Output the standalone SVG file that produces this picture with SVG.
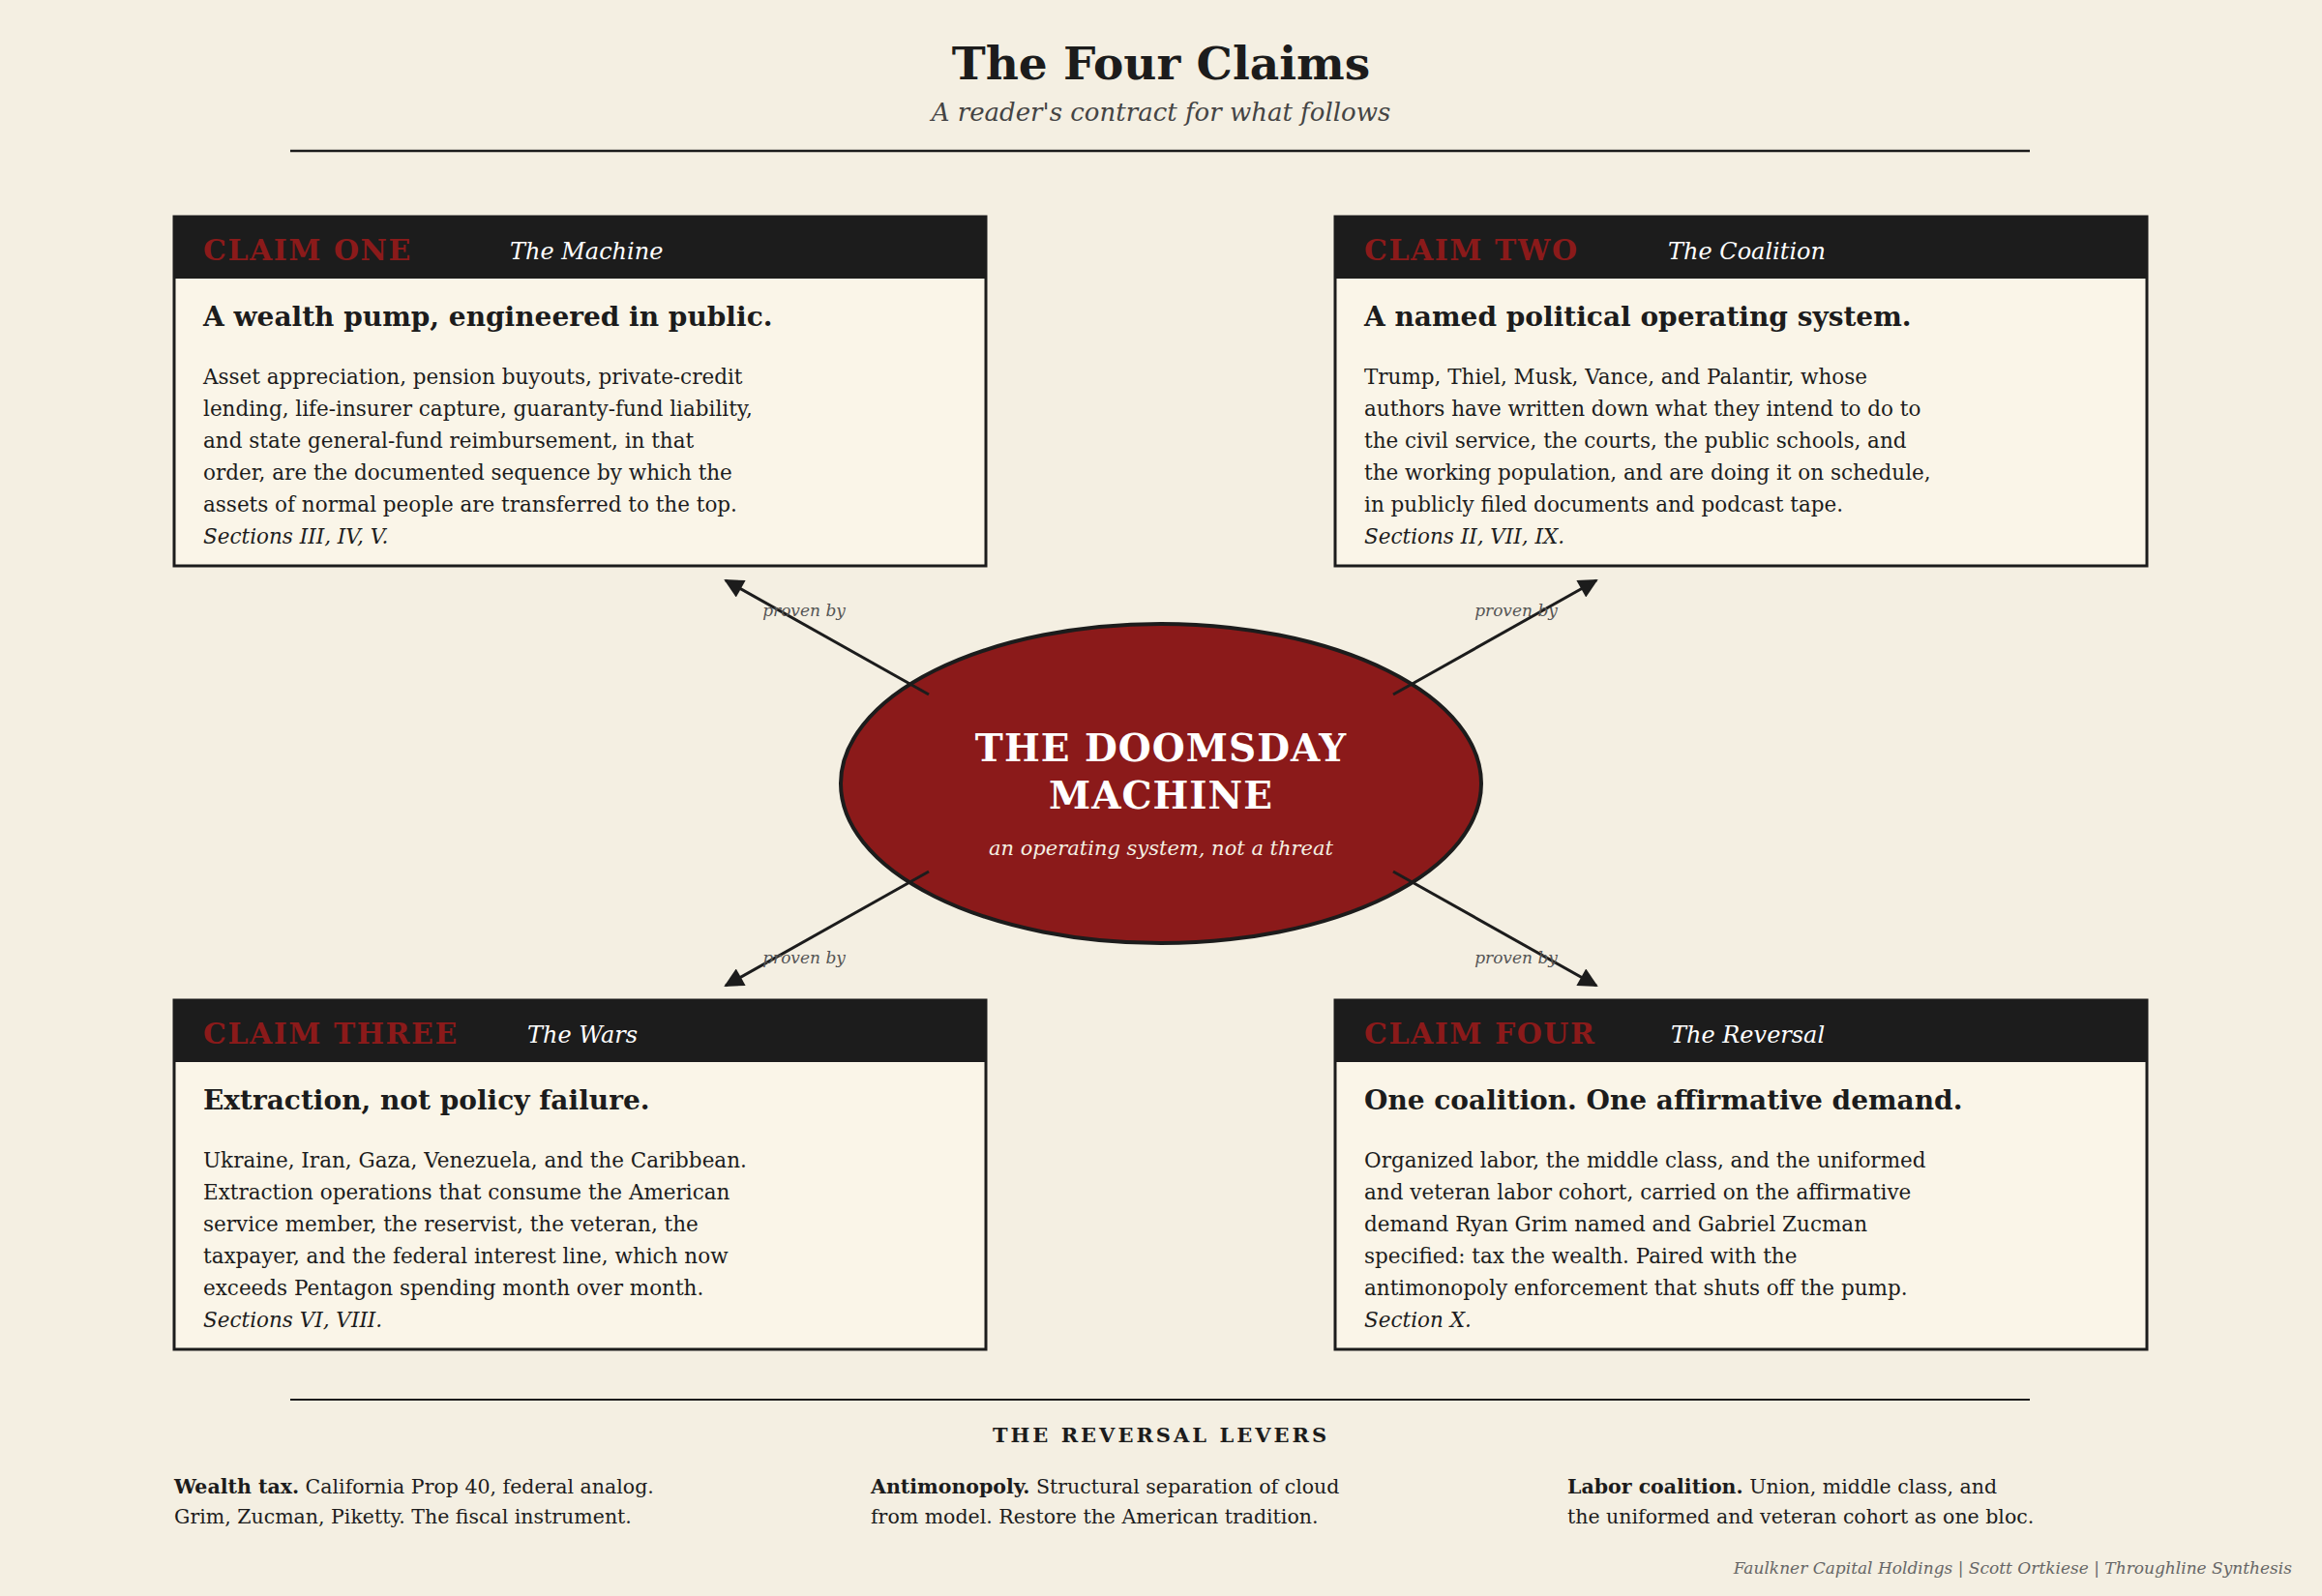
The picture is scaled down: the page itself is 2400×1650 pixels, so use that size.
<svg xmlns="http://www.w3.org/2000/svg" width="2400" height="1650" viewBox="0 0 2400 1650">
<defs>
<style>
text{font-family:"DejaVu Serif","Liberation Serif",serif;}
.box{fill:#FAF5E8;stroke:#1c1c1c;stroke-width:3}
.hdr{fill:#1c1c1c}
.cl{fill:#8B1A1A;font-size:30px;letter-spacing:1.5px;font-weight:bold}
.sub{fill:#ffffff;font-size:24px;font-style:italic}
.hd{fill:#1c1c1c;font-size:28px;font-weight:bold}
.bd{fill:#1c1c1c;font-size:21.5px}
.it{font-style:italic}
.pb{fill:#555;font-size:17px;font-style:italic}
.ln{stroke:#1c1c1c;stroke-width:3;fill:none;marker-end:url(#ah)}
.lv{fill:#1c1c1c;font-size:20.5px}
</style>
<marker id="ah" viewBox="0 0 10 10" refX="9" refY="5" markerWidth="24" markerHeight="20" orient="auto" markerUnits="userSpaceOnUse">
<path d="M0,0 L10,5 L0,10 z" fill="#1c1c1c"/>
</marker>
</defs>
<rect width="2400" height="1650" fill="#F4EFE2"/>
<g id="title">
<text x="1200" y="82" text-anchor="middle" font-size="47" font-weight="bold" fill="#1c1c1c">The Four Claims</text>
<text x="1200" y="125" text-anchor="middle" font-size="26" font-style="italic" fill="#444">A reader's contract for what follows</text>
<line x1="300" y1="156" x2="2098" y2="156" stroke="#1c1c1c" stroke-width="2.5"/>
</g>
<g id="center">
<ellipse cx="1200" cy="810" rx="331" ry="165" fill="#8B1A1A" stroke="#1c1c1c" stroke-width="4"/>
<text x="1200" y="787" text-anchor="middle" font-size="39" font-weight="bold" fill="#fff" letter-spacing="1">THE DOOMSDAY</text>
<text x="1200" y="836" text-anchor="middle" font-size="39" font-weight="bold" fill="#fff" letter-spacing="1">MACHINE</text>
<text x="1200" y="884" text-anchor="middle" font-size="21" font-style="italic" fill="#F4EFE2">an operating system, not a threat</text>
</g>
<g id="connectors">
<line class="ln" x1="960" y1="718" x2="750" y2="600"/>
<line class="ln" x1="1440" y1="718" x2="1650" y2="600"/>
<line class="ln" x1="960" y1="901" x2="750" y2="1019"/>
<line class="ln" x1="1440" y1="901" x2="1650" y2="1019"/>
<text class="pb" x="831" y="637" text-anchor="middle">proven by</text>
<text class="pb" x="1567" y="637" text-anchor="middle">proven by</text>
<text class="pb" x="831" y="996" text-anchor="middle">proven by</text>
<text class="pb" x="1567" y="996" text-anchor="middle">proven by</text>
</g>
<g id="claim1">
<rect class="box" x="180" y="224" width="839" height="361"/>
<rect class="hdr" x="180" y="224" width="839" height="64"/>
<text class="cl" x="210" y="269">CLAIM ONE</text>
<text class="sub" x="527" y="268">The Machine</text>
<text class="hd" x="210" y="337">A wealth pump, engineered in public.</text>
<text class="bd" x="210" y="397">Asset appreciation, pension buyouts, private-credit</text>
<text class="bd" x="210" y="430">lending, life-insurer capture, guaranty-fund liability,</text>
<text class="bd" x="210" y="463">and state general-fund reimbursement, in that</text>
<text class="bd" x="210" y="496">order, are the documented sequence by which the</text>
<text class="bd" x="210" y="529">assets of normal people are transferred to the top.</text>
<text class="bd it" x="210" y="562">Sections III, IV, V.</text>
</g>
<g id="claim2">
<rect class="box" x="1380" y="224" width="839" height="361"/>
<rect class="hdr" x="1380" y="224" width="839" height="64"/>
<text class="cl" x="1410" y="269">CLAIM TWO</text>
<text class="sub" x="1724" y="268">The Coalition</text>
<text class="hd" x="1410" y="337">A named political operating system.</text>
<text class="bd" x="1410" y="397">Trump, Thiel, Musk, Vance, and Palantir, whose</text>
<text class="bd" x="1410" y="430">authors have written down what they intend to do to</text>
<text class="bd" x="1410" y="463">the civil service, the courts, the public schools, and</text>
<text class="bd" x="1410" y="496">the working population, and are doing it on schedule,</text>
<text class="bd" x="1410" y="529">in publicly filed documents and podcast tape.</text>
<text class="bd it" x="1410" y="562">Sections II, VII, IX.</text>
</g>
<g id="claim3">
<rect class="box" x="180" y="1034" width="839" height="361"/>
<rect class="hdr" x="180" y="1034" width="839" height="64"/>
<text class="cl" x="210" y="1079">CLAIM THREE</text>
<text class="sub" x="545" y="1078">The Wars</text>
<text class="hd" x="210" y="1147">Extraction, not policy failure.</text>
<text class="bd" x="210" y="1207">Ukraine, Iran, Gaza, Venezuela, and the Caribbean.</text>
<text class="bd" x="210" y="1240">Extraction operations that consume the American</text>
<text class="bd" x="210" y="1273">service member, the reservist, the veteran, the</text>
<text class="bd" x="210" y="1306">taxpayer, and the federal interest line, which now</text>
<text class="bd" x="210" y="1339">exceeds Pentagon spending month over month.</text>
<text class="bd it" x="210" y="1372">Sections VI, VIII.</text>
</g>
<g id="claim4">
<rect class="box" x="1380" y="1034" width="839" height="361"/>
<rect class="hdr" x="1380" y="1034" width="839" height="64"/>
<text class="cl" x="1410" y="1079">CLAIM FOUR</text>
<text class="sub" x="1727" y="1078">The Reversal</text>
<text class="hd" x="1410" y="1147">One coalition. One affirmative demand.</text>
<text class="bd" x="1410" y="1207">Organized labor, the middle class, and the uniformed</text>
<text class="bd" x="1410" y="1240">and veteran labor cohort, carried on the affirmative</text>
<text class="bd" x="1410" y="1273">demand Ryan Grim named and Gabriel Zucman</text>
<text class="bd" x="1410" y="1306">specified: tax the wealth. Paired with the</text>
<text class="bd" x="1410" y="1339">antimonopoly enforcement that shuts off the pump.</text>
<text class="bd it" x="1410" y="1372">Section X.</text>
</g>
<g id="levers">
<line x1="300" y1="1447" x2="2098" y2="1447" stroke="#1c1c1c" stroke-width="2"/>
<text x="1200" y="1491" text-anchor="middle" font-size="21" font-weight="bold" letter-spacing="3" fill="#1c1c1c">THE REVERSAL LEVERS</text>
<text class="lv" x="180" y="1544"><tspan font-weight="bold">Wealth tax.</tspan> California Prop 40, federal analog.</text>
<text class="lv" x="180" y="1575">Grim, Zucman, Piketty. The fiscal instrument.</text>
<text class="lv" x="900" y="1544"><tspan font-weight="bold">Antimonopoly.</tspan> Structural separation of cloud</text>
<text class="lv" x="900" y="1575">from model. Restore the American tradition.</text>
<text class="lv" x="1620" y="1544"><tspan font-weight="bold">Labor coalition.</tspan> Union, middle class, and</text>
<text class="lv" x="1620" y="1575">the uniformed and veteran cohort as one bloc.</text>
<text x="2369" y="1627" text-anchor="end" font-size="17" font-style="italic" fill="#666">Faulkner Capital Holdings | Scott Ortkiese | Throughline Synthesis</text>
</g>
</svg>
